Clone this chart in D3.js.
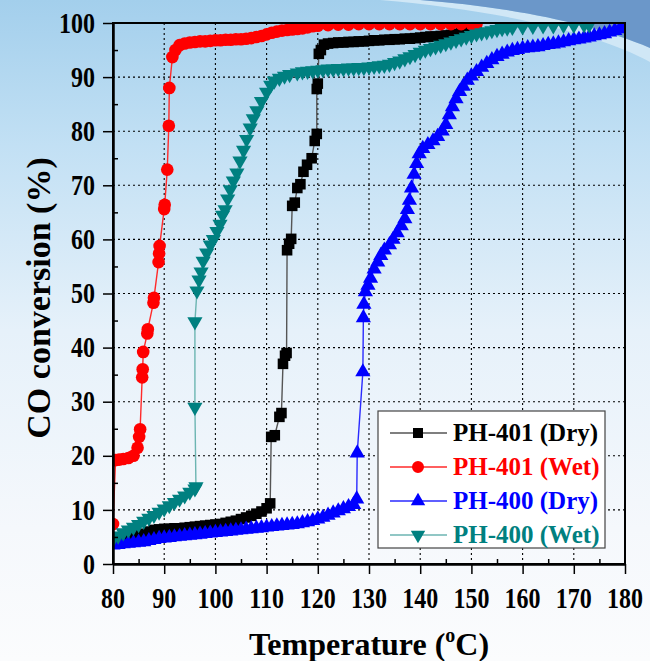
<!DOCTYPE html>
<html>
<head>
<meta charset="utf-8">
<script src="https://cdn.jsdelivr.net/npm/d3@7"></script>
<style>
  html, body { margin: 0; padding: 0; background: #fff; }
  svg { display: block; font-family: "Liberation Serif", "Times New Roman", serif; font-weight: bold; }
</style>
</head>
<body>
<svg id="chart"></svg>
<script>
// CO conversion vs temperature, four catalysts runs

const xTicks = [80, 90, 100, 110, 120, 130, 140, 150, 160, 170, 180];
const yTicks = [0, 10, 20, 30, 40, 50, 60, 70, 80, 90, 100];
const xMinor = [85, 95, 105, 115, 125, 135, 145, 155, 165, 175];
const yMinor = [5, 15, 25, 35, 45, 55, 65, 75, 85, 95];

const seriesNames = ["PH-401 (Dry)", "PH-401 (Wet)", "PH-400 (Dry)", "PH-400 (Wet)"];

// [temperature, conversion]
const ph401Dry = [
  [80,4.5],[81,4.7],[82,4.9],[83,5.0],[84,5.2],[85,5.4],[86,5.6],[87,6.0],[88,6.3],[89,6.4],
  [90,6.5],[91,6.5],[92,6.6],[93,6.6],[94,6.7],[95,6.8],[96,6.9],[97,7.0],[98,7.1],[99,7.2],
  [100,7.3],[101,7.4],[102,7.6],[103,7.8],[104,8.0],[105,8.3],[106,8.6],[107,8.9],[108,9.3],[109,9.7],
  [110,10.3],[110.7,11.2],[110.9,23.5],[111.6,23.8],[112.5,27.2],[112.9,27.9],[113.2,37.0],[113.6,38.5],[113.9,39.0],
  [114.0,58.0],[114.4,59.2],[114.8,60.1],[115.0,66.2],[115.5,66.8],[116.0,69.5],[116.6,70.2],[117.2,72.5],
  [117.9,73.8],[118.8,75.0],[119.4,78.2],[119.8,79.5],[119.8,87.8],[120.0,88.8],[120.2,94.3],[120.6,95.0],
  [121.2,96.0],[122,96.2],[123,96.3],[124,96.4],[125,96.4],[126,96.5],[127,96.5],[128,96.6],[129,96.6],
  [130,96.7],[131,96.8],[132,96.8],[133,96.9],[134,96.9],[135,97.0],[136,97.0],[137,97.1],[138,97.1],
  [139,97.2],[140,97.3],[141,97.4],[142,97.5],[143,97.5],[144,97.6],[145,97.7],[146,97.8],[147,98.0],
  [148,98.2],[149,98.5],[150,98.8],[151,99.2]
];

const ph401Wet = [
  [80,7.4],[80.5,19.2],[81.2,19.3],[82,19.4],[83,19.6],[84,20.0],[84.8,21.5],[85.1,23.5],[85.3,24.9],
  [85.7,34.5],[85.8,36.0],[85.9,39.2],[86.7,42.6],[86.8,43.4],[87.9,48.3],[88.0,49.2],[88.9,55.8],
  [89.0,57.4],[89.1,58.8],[90.0,65.6],[90.1,66.4],[90.6,72.9],[90.9,81.0],[91.0,88.0],[91.6,93.7],
  [92.2,95.0],[93,95.9],[94,96.2],[95,96.4],[96,96.5],[97,96.6],[98,96.6],[99,96.7],[100,96.8],
  [101,96.8],[102,96.9],[103,96.9],[104,97.0],[105,97.0],[106,97.1],[107,97.2],[108,97.4],[109,97.6],
  [110,97.9],[111,98.2],[112,98.4],[113,98.6],[114,98.7],[115,98.8],[116,98.9],[117,99.0],[118,99.2],
  [119,99.4],[120,99.5],[122,99.6],[124,99.7],[126,99.7],[128,99.8],[130,99.8],[132,99.8],[134,99.8],
  [136,99.8],[138,99.8],[140,99.8],[142,99.8],[144,99.8],[146,99.8],[148,99.8],[150,99.8],[151,99.8]
];

const ph400Dry = [
  [80,3.5],[81,3.6],[82,3.7],[83,3.8],[84,3.9],[85,4.0],[86,4.1],[87,4.3],[88,4.5],[89,4.7],
  [90,4.8],[91,4.9],[92,5.0],[93,5.1],[94,5.2],[95,5.3],[96,5.4],[97,5.5],[98,5.6],[99,5.7],
  [100,5.8],[101,5.9],[102,6.0],[103,6.1],[104,6.2],[105,6.3],[106,6.4],[107,6.5],[108,6.6],[109,6.7],
  [110,6.8],[111,6.9],[112,7.0],[113,7.1],[114,7.2],[115,7.3],[116,7.4],[117,7.6],[118,7.8],[119,8.0],
  [120,8.3],[121,8.6],[122,9.0],[123,9.4],[124,9.8],[125,10.2],[126,10.6],[127,11.0],[127.6,12.0],
  [127.7,20.5],[128.8,35.5],[128.9,45.5],[129.0,48.0],[129.3,50.3],[129.8,51.5],[130.3,52.8],[131,54.5],
  [131.7,55.8],[132.3,57.0],[133,58.0],[134,59.0],[134.7,60.0],[135.5,61.2],[136.3,62.5],[137,63.8],
  [137.5,65.5],[137.9,67.2],[138.3,69.5],[138.8,72.0],[139.3,74.0],[139.8,75.8],[140.5,76.8],[141.5,77.5],
  [142.5,78.2],[143.4,79.0],[144.3,80.0],[145,81.2],[145.7,83.0],[146.3,84.5],[147,86.0],[147.7,87.3],
  [148.4,88.3],[149.2,89.4],[150,90.2],[151,91.0],[152,91.8],[153,92.5],[154,93.2],[155,93.8],[156,94.2],
  [157,94.6],[158,94.9],[159,95.1],[160,95.3],[161,95.4],[162,95.5],[163,95.6],[164,95.8],[165,96.0],
  [166,96.1],[167,96.3],[168,96.5],[169,96.7],[170,96.9],[171,97.0],[172,97.2],[173,97.4],[174,97.6],
  [175,97.8],[176,98.0],[177,98.3],[178,98.6],[179,98.9],[180,99.3]
];

const ph400Wet = [
  [80,4.6],[81,5.2],[82,5.8],[83,6.3],[84,6.8],[85,7.3],[86,7.9],[87,8.5],[88,9.0],[89,9.6],
  [90,10.2],[91,10.8],[92,11.4],[93,12.0],[94,12.6],[95,13.3],[96,13.9],[96.2,14.3],
  [96.0,29.0],[96.0,44.8],[96.4,50.5],[96.8,52.5],[97.2,54.0],[97.6,56.0],[98.3,57.5],[99.0,59.0],
  [99.6,60.0],[100.3,61.5],[100.9,62.8],[101.4,64.5],[101.9,65.5],[102.4,67.5],[102.9,69.2],[103.5,70.8],
  [104.2,72.3],[104.8,74.5],[105.5,76.5],[106.1,78.5],[106.8,80.6],[107.4,82.3],[108.1,83.8],[109,85.5],
  [110,87.2],[110.8,88.5],[111.5,89.3],[112.5,89.8],[113.5,90.2],[114.5,90.5],[116,90.8],[117,91.0],
  [118,91.1],[119,91.2],[120,91.3],[121,91.4],[122,91.5],[123,91.5],[124,91.6],[125,91.6],[126,91.7],
  [127,91.7],[128,91.8],[129,91.8],[130,91.9],[131,92.0],[132,92.1],[133,92.2],[134,92.4],[135,92.7],
  [136,93.0],[137,93.4],[138,93.8],[139,94.2],[140,94.6],[141,95.0],[142,95.3],[143,95.6],[144,95.9],
  [145,96.2],[146,96.5],[147,96.8],[148,97.1],[149,97.4],[150,97.7],[151,98.0],[152,98.2],[153,98.4],
  [154,98.6],[155,98.8],[156,99.0],[157,99.1],[158,99.2],[160,99.3],[162,99.4],[164,99.5],[166,99.5],
  [168,99.6],[170,99.6],[172,99.7],[173,99.7]
];

const allSeries = [ph401Dry, ph401Wet, ph400Dry, ph400Wet];
const markerColors = ["#000000", "#ff0000", "#0000ff", "#008080"];
const lineColors = ["#555555", "#ff2a2a", "#2a2aff", "#6cb5b2"];
const markerTypes = [d3.symbolSquare, d3.symbolCircle, d3.symbolTriangle, d3.symbolTriangle];
const markerSizes = [112, 125, 100, 100];
const legendSizes = [100, 113, 90, 90];
const markerRotate = [0, 0, 0, 180];

const width = 650, height = 661;
const pLeft = 113, pRight = 625, pTop = 23, pBottom = 564;

const svg = d3.select("#chart").attr("width", width).attr("height", height);
const defs = svg.append("defs");

// slide background
const bg = defs.append("linearGradient").attr("id", "bg")
  .attr("x1", 0).attr("y1", 0).attr("x2", 0).attr("y2", 1);
bg.append("stop").attr("offset", 0).attr("stop-color", "#a3cfec");
bg.append("stop").attr("offset", 0.22).attr("stop-color", "#c2e0f4");
bg.append("stop").attr("offset", 0.5).attr("stop-color", "#e6f1fa");
bg.append("stop").attr("offset", 0.8).attr("stop-color", "#f5f8fc");
bg.append("stop").attr("offset", 1).attr("stop-color", "#fbfcfd");
svg.append("rect").attr("width", width).attr("height", height).attr("fill", "url(#bg)");
svg.append("path")
  .attr("d", "M380,0 C500,10 600,34 650,62 L650,48 C590,22 500,6 420,0 Z")
  .attr("fill", "#d0e7f6");
svg.append("path")
  .attr("d", "M420,0 C500,6 590,22 650,48 L650,0 Z")
  .attr("fill", "#6b97c9");

const x = d3.scaleLinear().domain([80, 180]).range([pLeft, pRight]);
const y = d3.scaleLinear().domain([0, 100]).range([pBottom, pTop]);

defs.append("clipPath").attr("id", "plotClip")
  .append("rect").attr("x", pLeft).attr("y", pTop)
  .attr("width", pRight - pLeft).attr("height", pBottom - pTop);

// dotted grid
const grid = svg.append("g").attr("stroke", "#000").attr("stroke-width", 1.1)
  .attr("stroke-dasharray", "2,3");
grid.selectAll(".gx").data(xTicks.slice(1, -1)).enter().append("line")
  .attr("x1", d => x(d)).attr("x2", d => x(d)).attr("y1", pTop).attr("y2", pBottom);
grid.selectAll(".gy").data(yTicks.slice(1, -1)).enter().append("line")
  .attr("x1", pLeft).attr("x2", pRight).attr("y1", d => y(d)).attr("y2", d => y(d));

// series
const plot = svg.append("g").attr("clip-path", "url(#plotClip)");
const line = d3.line().x(d => x(d[0])).y(d => y(d[1]));

allSeries.forEach((data, i) => {
  plot.append("path").datum(data)
    .attr("fill", "none")
    .attr("stroke", lineColors[i])
    .attr("stroke-width", 1.4)
    .attr("d", line);
  const sym = d3.symbol().type(markerTypes[i]).size(markerSizes[i]);
  plot.selectAll(".m" + i).data(data).enter().append("path")
    .attr("d", sym)
    .attr("fill", markerColors[i])
    .attr("transform", d => `translate(${x(d[0])},${y(d[1])}) rotate(${markerRotate[i]})`);
});

// axes
svg.append("g").attr("transform", `translate(0,${pBottom})`)
  .call(d3.axisBottom(x).tickValues(xTicks).tickSize(10).tickSizeOuter(0).tickFormat(""));
svg.append("g").attr("transform", `translate(0,${pBottom})`)
  .call(d3.axisBottom(x).tickValues(xMinor).tickSize(-5).tickSizeOuter(0).tickFormat(""));
svg.append("g").attr("transform", `translate(${pLeft},0)`)
  .call(d3.axisLeft(y).tickValues(yTicks).tickSize(10).tickSizeOuter(0).tickFormat(""));
svg.append("g").attr("transform", `translate(${pLeft},0)`)
  .call(d3.axisLeft(y).tickValues(yMinor).tickSize(-5).tickSizeOuter(0).tickFormat(""));
svg.selectAll(".tick line").attr("stroke", "#000").attr("stroke-width", 1.5);
svg.selectAll(".domain").attr("stroke", "#000").attr("stroke-width", 2);

// frame
svg.append("rect").attr("x", pLeft).attr("y", pTop)
  .attr("width", pRight - pLeft).attr("height", pBottom - pTop)
  .attr("fill", "none").attr("stroke", "#000").attr("stroke-width", 2);

// tick labels (tall serif digits)
svg.selectAll(".xl").data(xTicks).enter().append("text")
  .attr("transform", d => `translate(${x(d)},608) scale(1,1.2)`)
  .attr("text-anchor", "middle").attr("font-size", 24).attr("fill", "#000")
  .text(d => d);
svg.selectAll(".yl").data(yTicks).enter().append("text")
  .attr("transform", d => `translate(95,${y(d)}) scale(1,1.2)`)
  .attr("y", 8)
  .attr("text-anchor", "end").attr("font-size", 24).attr("fill", "#000")
  .text(d => d);

// axis titles
const xt = svg.append("text").attr("x", (pLeft + pRight) / 2).attr("y", 655)
  .attr("text-anchor", "middle").attr("font-size", 32).attr("fill", "#000");
xt.append("tspan").text("Temperature (");
xt.append("tspan").attr("font-size", 20).attr("dy", -13).text("o");
xt.append("tspan").attr("dy", 13).text("C)");

svg.append("text")
  .attr("transform", "translate(50,298) rotate(-90)")
  .attr("text-anchor", "middle").attr("font-size", 34).attr("fill", "#000")
  .text("CO conversion (%)");

// legend
const lg = svg.append("g").attr("transform", "translate(378,411)");
lg.append("rect").attr("width", 227).attr("height", 137)
  .attr("fill", "#fff").attr("stroke", "#444").attr("stroke-width", 1.2);
seriesNames.forEach((name, i) => {
  const ly = 22 + i * 34;
  lg.append("line").attr("x1", 12).attr("x2", 69).attr("y1", ly).attr("y2", ly)
    .attr("stroke", lineColors[i]).attr("stroke-width", 1.3);
  lg.append("path")
    .attr("d", d3.symbol().type(markerTypes[i]).size(legendSizes[i])())
    .attr("fill", markerColors[i])
    .attr("transform", `translate(40,${ly}) rotate(${markerRotate[i]})`);
  lg.append("text").attr("x", 75).attr("y", ly + 8)
    .attr("font-size", 25).attr("fill", markerColors[i]).text(name);
});
</script>
</body>
</html>
